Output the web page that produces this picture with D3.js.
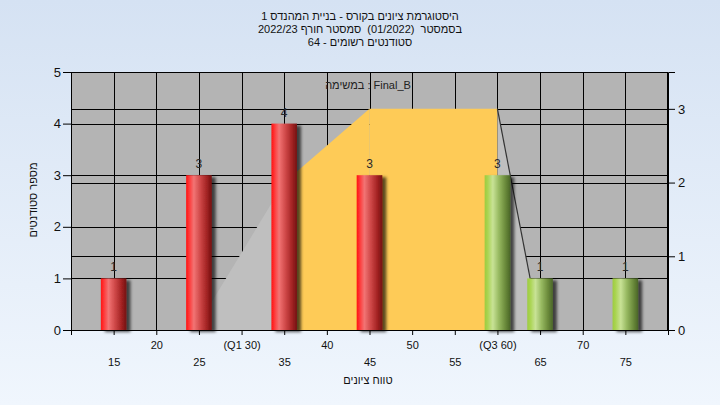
<!DOCTYPE html>
<html><head><meta charset="utf-8">
<script src="https://cdn.jsdelivr.net/npm/d3@7"></script>
<style>
html,body{margin:0;padding:0;}
body{width:720px;height:405px;overflow:hidden;}
text{font-family:"Liberation Sans",Arial,sans-serif;white-space:pre;}
</style></head>
<body>
<svg id="chart" width="720" height="405"></svg>
<script>
// ---- data ----
const titleLines = ["היסטוגרמת ציונים בקורס - בניית המהנדס 1", "בסמסטר  (01/2022)  סמסטר חורף 2022/23", "סטודנטים רשומים - 64"];
const legendLabel = "במשימה : Final_B";
const yTitle = "מספר סטודנטים";
const xTitle = "טווח ציונים";
const binCenters = [15, 25, 35, 45, 60, 65, 75];
const counts = [1, 3, 4, 3, 3, 1, 1];
const barGroup = ["low", "low", "low", "low", "high", "high", "high"];
const areaX = [24.5, 35, 45, 60, 65];
const areaY = [0, 2, 3, 3, 0];
const areaSegKind = ["side", "mid", "mid", "side"];
const xTicks = [15, 20, 25, 30, 35, 40, 45, 50, 55, 60, 65, 70, 75];
const xTickLabels = ["15", "20", "25", "(Q1 30)", "35", "40", "45", "50", "55", "(Q3 60)", "65", "70", "75"];
const leftTicks = [0, 1, 2, 3, 4, 5];
const rightTicks = [0, 1, 2, 3];

const svg = d3.select("#chart");
const defs = svg.append("defs");
const bg = defs.append("linearGradient").attr("id", "bg").attr("x1", 0).attr("y1", 0).attr("x2", 0).attr("y2", 1);
bg.append("stop").attr("offset", "0%").attr("stop-color", "#d5e2f3");
bg.append("stop").attr("offset", "100%").attr("stop-color", "#f0f6fd");
svg.append("rect").attr("width", 720).attr("height", 405).attr("fill", "url(#bg)");

function grad(id, stops) {
  const g = defs.append("linearGradient").attr("id", id).attr("x1", 0).attr("y1", 0).attr("x2", 1).attr("y2", 0);
  stops.forEach(s => g.append("stop").attr("offset", s[0]).attr("stop-color", s[1]));
}
grad("g-low", [["0%", "#ff1212"], ["10%", "#ff3232"], ["30%", "#f27474"], ["55%", "#cf4848"], ["80%", "#a42424"], ["100%", "#731010"]]);
grad("g-high", [["0%", "#9ccc3e"], ["12%", "#aad452"], ["32%", "#c8e296"], ["55%", "#98ba62"], ["80%", "#6c8c3c"], ["100%", "#4a6628"]]);
const f = defs.append("filter").attr("id", "shadow").attr("x", "-20%").attr("y", "-10%").attr("width", "160%").attr("height", "130%");
f.append("feDropShadow").attr("dx", 4).attr("dy", 2).attr("stdDeviation", 1.6).attr("flood-color", "#000").attr("flood-opacity", 0.65);

const L = 71, R = 668, T = 72, B = 330;
const x = d3.scaleLinear().domain([10, 80]).range([L, R]);
const yL = d3.scaleLinear().domain([0, 5]).range([B, T]);
const yR = d3.scaleLinear().domain([0, 3.5]).range([B, T]);

// plot background
svg.append("rect").attr("x", L).attr("y", T).attr("width", R - L).attr("height", B - T).attr("fill", "#b4b4b4");

// gridlines
const grid = svg.append("g").attr("stroke", "#000").attr("stroke-width", 1).attr("shape-rendering", "crispEdges");
grid.selectAll("line.v").data(xTicks).join("line").attr("class", "v")
  .attr("x1", d => Math.round(x(d)) + 0.5).attr("x2", d => Math.round(x(d)) + 0.5).attr("y1", T).attr("y2", B);
grid.selectAll("line.hl").data(leftTicks.slice(1)).join("line").attr("class", "hl")
  .attr("x1", L).attr("x2", R).attr("y1", d => Math.round(yL(d)) + 0.5).attr("y2", d => Math.round(yL(d)) + 0.5);
grid.selectAll("line.hr").data(rightTicks.slice(1)).join("line").attr("class", "hr")
  .attr("x1", L).attr("x2", R).attr("y1", d => Math.round(yR(d)) + 0.5).attr("y2", d => Math.round(yR(d)) + 0.5);

// area segments
const area = d3.area().x(d => x(d[0])).y0(yR(0)).y1(d => yR(d[1]));
const segColor = {side: "#bfbfbf", mid: "#fecb57"};
areaSegKind.forEach((k, i) => {
  const pts = [[areaX[i], areaY[i]], [areaX[i + 1], areaY[i + 1]]];
  svg.append("path").attr("d", area(pts)).attr("fill", segColor[k]);
});
const last = areaX.length - 1;
svg.append("path").attr("d", d3.line().x(d => x(d[0])).y(d => yR(d[1]))([[areaX[last - 1], areaY[last - 1]], [areaX[last], areaY[last]]]))
  .attr("stroke", "#333").attr("stroke-width", 1.2).attr("fill", "none");

// bars
const halfW = 1.5;
const bars = svg.append("g");
binCenters.forEach((c, i) => {
  bars.append("rect")
    .attr("x", x(c - halfW)).attr("width", x(c + halfW) - x(c - halfW))
    .attr("y", yL(counts[i])).attr("height", yL(0) - yL(counts[i]))
    .attr("fill", `url(#g-${barGroup[i]})`).attr("filter", "url(#shadow)");
  svg.append("text").attr("x", x(c)).attr("y", yL(counts[i]) - 7)
    .attr("text-anchor", "middle").attr("font-size", 12).attr("fill", "#2a2a2a").text(counts[i]);
});

// plot border
svg.append("rect").attr("x", L + 0.5).attr("y", T + 0.5).attr("width", R - L - 1).attr("height", B - T)
  .attr("fill", "none").attr("stroke", "#000").attr("shape-rendering", "crispEdges");

// axes
const axL = svg.append("g").attr("transform", `translate(${L},0)`)
  .call(d3.axisLeft(yL).tickValues(leftTicks).tickSize(8).tickPadding(2).tickFormat(d3.format("d")));
const axR = svg.append("g").attr("transform", `translate(${R},0)`)
  .call(d3.axisRight(yR).tickValues(rightTicks).tickSize(7).tickPadding(3).tickFormat(d3.format("d")));
const axB = svg.append("g").attr("transform", `translate(0,${B})`)
  .call(d3.axisBottom(x).tickValues(xTicks).tickSize(5).tickFormat((d, i) => xTickLabels[i]));
[axL, axR, axB].forEach(a => {
  a.select(".domain").attr("stroke", "#000");
  a.selectAll(".tick line").attr("stroke", "#000");
  a.selectAll("text").attr("font-family", "Liberation Sans, Arial, sans-serif").attr("fill", "#111");
});
axL.selectAll("text").attr("font-size", 13);
axR.selectAll("text").attr("font-size", 13);
axB.selectAll("text").attr("font-size", 11)
  .attr("dy", null)
  .attr("y", (d, i) => (xTicks[i] % 10 === 0 ? 19 : 36));

// titles
svg.append("g").selectAll("text").data(titleLines).join("text")
  .attr("x", 360).attr("y", (d, i) => 20 + i * 13)
  .attr("text-anchor", "middle").attr("font-size", 11).attr("fill", "#111")
  .text(d => d);
svg.append("text").attr("x", 368).attr("y", 89).attr("text-anchor", "middle").attr("font-size", 11)
  .attr("fill", "#222").text(legendLabel);
svg.append("text").attr("transform", "translate(37,200) rotate(-90)").attr("text-anchor", "middle")
  .attr("font-size", 11).attr("fill", "#111").text(yTitle);
svg.append("text").attr("x", 368).attr("y", 384).attr("text-anchor", "middle").attr("font-size", 11)
  .attr("fill", "#111").text(xTitle);
</script>
</body></html>
